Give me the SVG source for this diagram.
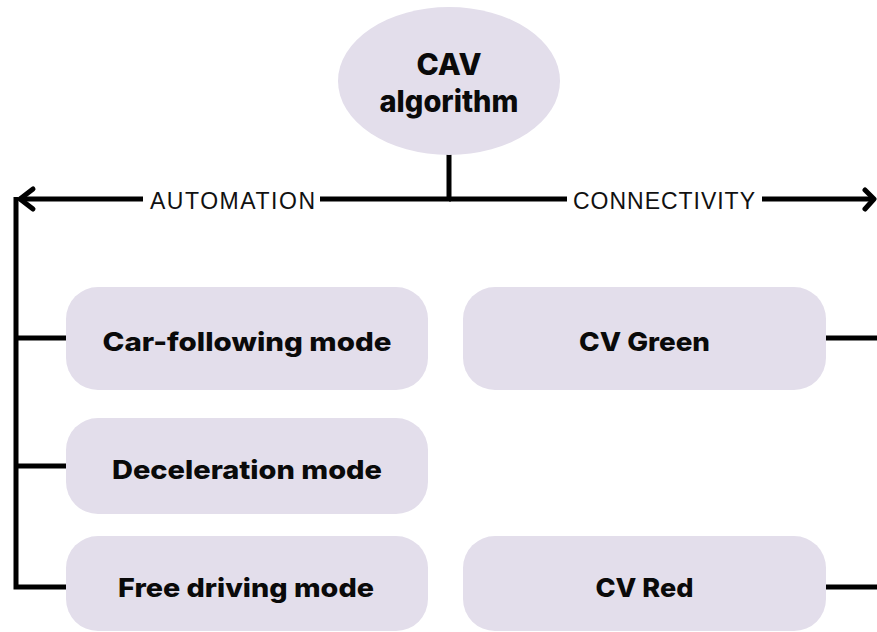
<svg xmlns="http://www.w3.org/2000/svg" width="877" height="632" viewBox="0 0 877 632">
  <style>
    .node { fill: #E3DEEB; }
    .title { font-family: Inter, "Noto Sans", "DejaVu Sans", sans-serif; font-weight: 800; fill: #0a0a0a; text-anchor: middle; }
    .branch { font-family: "Liberation Sans", Arial, sans-serif; font-size: 23px; fill: #111; }
    .wire { fill: none; stroke: #000; stroke-width: 5; stroke-linecap: butt; stroke-linejoin: miter; }
    .head { fill: none; stroke: #000; stroke-width: 5; stroke-linecap: round; stroke-linejoin: round; }
  </style>

  <!-- connectors -->
  <g id="connectors">
    <!-- stem from root down to the branch bar -->
    <line class="wire" x1="449" y1="154" x2="449" y2="201"/>
    <!-- automation branch (left) -->
    <line class="wire" x1="20" y1="199" x2="143" y2="199"/>
    <line class="wire" x1="320" y1="199" x2="451" y2="199"/>
    <polyline class="head" points="33,189 20,199 33,209"/>
    <!-- connectivity branch (right) -->
    <line class="wire" x1="449" y1="199" x2="567" y2="199"/>
    <line class="wire" x1="762" y1="199" x2="874" y2="199"/>
    <polyline class="head" points="865,190 874,199 865,209"/>
    <!-- left spine feeding automation modes -->
    <path class="wire" d="M16,197 V587 H66"/>
    <line class="wire" x1="16" y1="338" x2="66" y2="338"/>
    <line class="wire" x1="16" y1="466" x2="66" y2="466"/>
    <!-- right stubs from connectivity states -->
    <line class="wire" x1="826" y1="338" x2="877" y2="338"/>
    <line class="wire" x1="826" y1="587" x2="877" y2="587"/>
    <!-- branch labels -->
    <text class="branch" x="150" y="209" textLength="165" lengthAdjust="spacing">AUTOMATION</text>
    <text class="branch" x="573" y="209" textLength="182" lengthAdjust="spacing">CONNECTIVITY</text>
  </g>

  <!-- root -->
  <g id="cav-algorithm">
    <ellipse class="node" cx="449" cy="81" rx="111" ry="74"/>
    <text class="title" x="449" y="75" font-size="30">CAV</text>
    <text class="title" x="449" y="112" font-size="30" textLength="139" lengthAdjust="spacingAndGlyphs">algorithm</text>
  </g>

  <!-- automation modes -->
  <g id="car-following-mode">
    <rect class="node" x="66" y="287" width="362" height="103" rx="32"/>
    <text class="title" x="247" y="351" font-size="26" textLength="289" lengthAdjust="spacingAndGlyphs">Car-following mode</text>
  </g>
  <g id="deceleration-mode">
    <rect class="node" x="66" y="418" width="362" height="96" rx="32"/>
    <text class="title" x="247" y="479" font-size="26" textLength="270" lengthAdjust="spacingAndGlyphs">Deceleration mode</text>
  </g>
  <g id="free-driving-mode">
    <rect class="node" x="66" y="536" width="362" height="95" rx="32"/>
    <text class="title" x="246" y="597" font-size="26" textLength="256" lengthAdjust="spacingAndGlyphs">Free driving mode</text>
  </g>

  <!-- connectivity states -->
  <g id="cv-green">
    <rect class="node" x="463" y="287" width="363" height="103" rx="32"/>
    <text class="title" x="644.5" y="351" font-size="26" textLength="131" lengthAdjust="spacingAndGlyphs">CV Green</text>
  </g>
  <g id="cv-red">
    <rect class="node" x="463" y="536" width="363" height="95" rx="32"/>
    <text class="title" x="644.5" y="597" font-size="26" textLength="98" lengthAdjust="spacingAndGlyphs">CV Red</text>
  </g>
</svg>
